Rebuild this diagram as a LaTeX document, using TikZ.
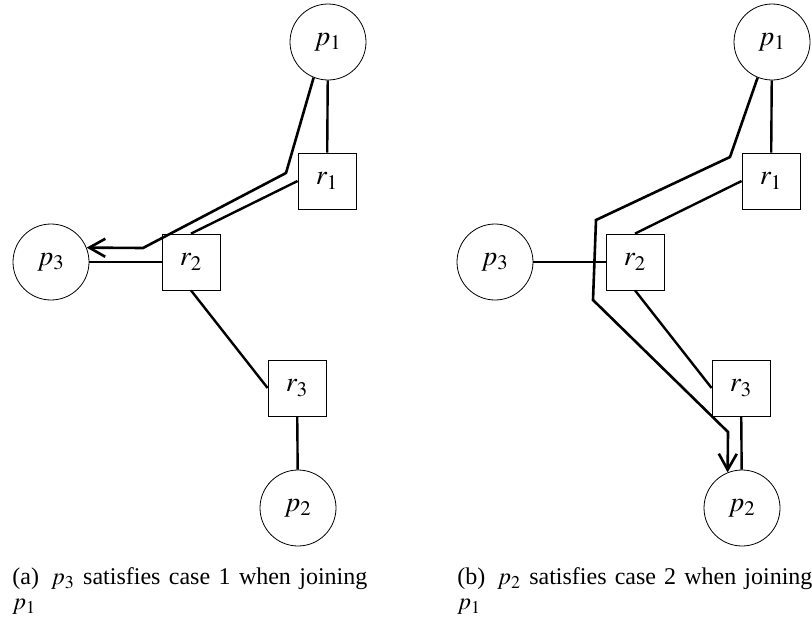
\documentclass[tikz,border=0pt]{standalone}
\usepackage{mathptmx}
\usepackage[no-math]{fontspec}
\setmainfont{Liberation Serif}
\usetikzlibrary{arrows,arrows.meta,calc}

\begin{document}
\begin{tikzpicture}[x=0.5pt,y=0.5pt,
  peer/.style={circle,draw,thin,minimum size=38pt,inner sep=0pt,font=\fontsize{14}{15}\selectfont},
  relay/.style={rectangle,draw,thin,minimum width=29pt,minimum height=28pt,inner sep=0pt,font=\fontsize{14}{15}\selectfont},
  link/.style={line width=1.2pt},
  route/.style={line width=1.3pt,-{Straight Barb[length=8pt,width=9pt]}},
  caption/.style={anchor=north west,inner sep=0pt,text width=177.5pt,align=justify,font=\fontsize{12}{12.5}\selectfont}]
\useasboundingbox (0,0) rectangle (812,623);

% (a)
\node[peer]  (a-p1) at (328,581) {$p_1$};
\node[relay] (a-r1) at (327,442) {$r_1$};
\node[relay] (a-r2) at (191,361) {$r_2$};
\node[peer]  (a-p3) at (51,361)  {$p_3$};
\node[relay] (a-r3) at (297,235) {$r_3$};
\node[peer]  (a-p2) at (298,115) {$p_2$};

\draw[link] (a-p1) -- (a-r1);
\draw[link] (a-r1.west) -- (a-r2.north);
\draw[link] (a-r2) -- (a-p3);
\draw[link] (a-r2.south) -- (a-r3.west);
\draw[link] (a-r3) -- (a-p2);

\draw[route] (a-p1.-112) -- (286,450) -- (143,375) -- (a-p3.22);

\node[caption] (a-cap) at (12,56) {(a)\enspace$p_3$ satisfies case 1 when joining\linebreak $p_1$};

% (b)
\node[peer]  (b-p1) at (772,581) {$p_1$};
\node[relay] (b-r1) at (771,442) {$r_1$};
\node[relay] (b-r2) at (635,361) {$r_2$};
\node[peer]  (b-p3) at (495,361) {$p_3$};
\node[relay] (b-r3) at (741,235) {$r_3$};
\node[peer]  (b-p2) at (742,115) {$p_2$};

\draw[link] (b-p1) -- (b-r1);
\draw[link] (b-r1.west) -- (b-r2.north);
\draw[link] (b-r2) -- (b-p3);
\draw[link] (b-r2.south) -- (b-r3.west);
\draw[link] (b-r3) -- (b-p2);

\draw[route] (b-p1.-112) -- (730,466) -- (596,403) -- (593,323) -- (728,191) -- (b-p2.112);

\node[caption] (b-cap) at (457,56) {(b)\enspace$p_2$ satisfies case 2 when joining\linebreak $p_1$};

\end{tikzpicture}
\end{document}
